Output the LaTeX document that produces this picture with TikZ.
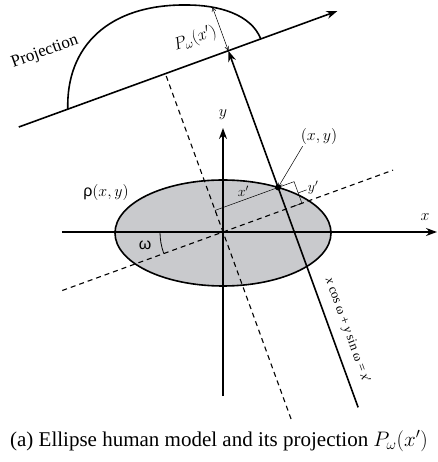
\documentclass[tikz,border=0pt]{standalone}
\usepackage{fix-cm}
\usepackage{fontspec}
\setmainfont{Liberation Serif}
\newfontfamily\grk{Liberation Sans}
\usetikzlibrary{arrows.meta}
\definecolor{ellgray}{RGB}{201,202,205}
\begin{document}
\begin{tikzpicture}[x=1pt,y=1pt,
  thickline/.style={line width=1.6pt},
  thinline/.style={line width=0.5pt},
  dashline/.style={line width=1.1pt, dash pattern=on 5pt off 4pt},
  bigarrow/.style={-{Stealth[length=11pt,width=8pt]}},
  barb/.style={-{Straight Barb[length=4pt,width=4pt]}},
  lbl/.style={font=\fontsize{16}{18}\selectfont, inner sep=1pt},
  smalllbl/.style={font=\fontsize{14}{16}\selectfont, inner sep=1pt}]
\useasboundingbox (-223,-230) rectangle (214,232);

% ellipse
\filldraw[fill=ellgray, thickline] (0,-1) ellipse [x radius=108pt, y radius=53pt];

% axes
\coordinate (O) at (0,0);
\coordinate (xs) at (-161,0);
\coordinate (xe) at (214,0);
\coordinate (ys) at (0,-164);
\coordinate (ye) at (0,104);
\draw[thickline, bigarrow] (xs) -- (xe);
\draw[thickline, bigarrow] (ys) -- (ye);
\node[lbl] (xl) at (202,15) {$x$};
\node[lbl] (yl) at (0,117) {$y$};

% rotated frame
\begin{scope}[rotate=20]
  \coordinate (wa) at (-171,0);
  \coordinate (wb) at (181,0);
  \draw[dashline] (wa) -- (wb);
  \coordinate (pa) at (0,-199);
  \coordinate (pb) at (0,168.5);
  \draw[dashline] (pa) -- (pb);
  \coordinate (Ls) at (-156,168.5);
  \coordinate (Le) at (183,168.5);
  \draw[thickline, bigarrow] (Ls) -- (Le);
  \coordinate (Sb) at (67,-211);
  \coordinate (St) at (67,168.5);
  \draw[thickline, bigarrow] (Sb) -- (St);
  \coordinate (P) at (67,23);
  % x' dimension
  \coordinate (Xa) at (0,23);
  \coordinate (Xt) at (0,17);
  \draw[thinline] (Xt) -- (Xa) -- (P);
  \node[smalllbl] (xp) at (33,31) {$x'$};
  % y' dimension
  \coordinate (Yc1) at (84,23);
  \coordinate (Yc2) at (84,0);
  \coordinate (Yc3) at (73,0);
  \draw[thinline] (P) -- (Yc1) -- (Yc2) -- (Yc3);
  \coordinate (Ym) at (84,11);
  \coordinate (Ym2) at (93,11);
  \draw[thinline] (Ym) -- (Ym2);
  \node[smalllbl] (yp) at (100,11) {$y'$};
  % P_omega dimension
  \coordinate (Pa) at (67,168.5);
  \coordinate (Pb) at (67,215);
  \draw[thinline, {Straight Barb[length=4pt,width=4pt]}-{Straight Barb[length=4pt,width=4pt]}] (Pa) -- (Pb);
  \node[font=\fontsize{17}{19}\selectfont, inner sep=0.5pt, rotate=20] (pw) at (40,191) {$P_\omega(x')$};
  % equation
  \node[font=\fontsize{13}{15}\selectfont, rotate=-70, inner sep=1pt] (eq) at (83,-135)
    {\textit{x} cos ω + \textit{y} sin ω = \textit{x}′};
\end{scope}

% projection curve
\coordinate (C0) at (-155.2,122.8);
\coordinate (C1) at (-36,227);
\coordinate (C2) at (37.8,193.0);
\draw[thickline] (C0) .. controls (-157,185) and (-115,228) .. (C1)
  .. controls (-5,227) and (28,218) .. (C2);
\node[font=\fontsize{17}{19}\selectfont, rotate=20, inner sep=1pt] (proj) at (-178,180) {Projection};

% point (x,y)
\fill (P) circle (3pt);
\node[lbl] (xy) at (96,95) {$(x,y)$};
\draw[thinline, barb] ([xshift=3pt]xy.south west) -- (P);

% labels rho, omega
\node[lbl] (rho) at (-117,39) {{\grk ρ}$(x,y)$};
\coordinate (A1) at (-63,0);
\draw[line width=0.8pt] (A1) arc[start angle=180, end angle=200, radius=63pt];
\node[lbl] (om) at (-78,-13) {\grk ω};

% caption
\node[font=\fontsize{21}{24}\selectfont, inner sep=0pt] (cap) at (-4,-209)
  {(a) Ellipse human model and its projection $P_\omega(x')$};
\end{tikzpicture}
\end{document}
